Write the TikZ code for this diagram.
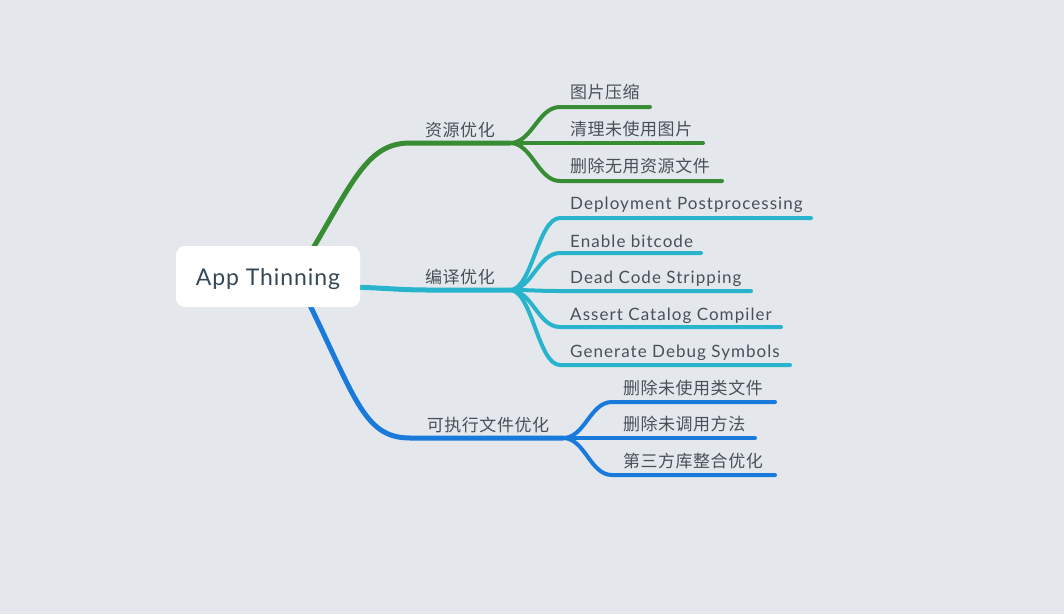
\documentclass[tikz,border=0pt]{standalone}
\usepackage{fontspec}
\setmainfont[LetterSpace=4]{Lato}
\newfontfamily\itemfont[LetterSpace=6.2]{Lato}
\newfontfamily\cjk[LetterSpace=3]{Noto Sans CJK SC}
\definecolor{bgc}{RGB}{228,232,236}
\definecolor{txt}{RGB}{72,80,90}
\definecolor{roottxt}{RGB}{52,72,88}
\definecolor{gbr}{RGB}{56,140,52}
\definecolor{cbr}{RGB}{40,180,205}
\definecolor{bbr}{RGB}{26,122,220}
\begin{document}
\begin{tikzpicture}[x=1pt,y=-1pt,
  mainline/.style={line width=5pt,line cap=round},
  subline/.style={line width=4pt,line cap=round},
  clbl/.style={inner sep=0pt,text=txt,font=\cjk\fontsize{17}{18}\selectfont},
  item/.style={inner sep=0pt,anchor=west,text=txt,font=\itemfont\fontsize{17}{18}\selectfont},
  citem/.style={inner sep=0pt,anchor=west,text=txt,font=\cjk\fontsize{17}{18}\selectfont},
  rootbox/.style={fill=white,rounded corners=9pt,minimum width=184pt,minimum height=61pt,inner sep=0pt,text=roottxt,font=\fontsize{23}{26}\selectfont}
]
\fill[bgc] (0,0) rectangle (1064,614);
\useasboundingbox (0,0) rectangle (1064,614);

% coordinates
\coordinate (gstart) at (300,270);
\coordinate (cstart) at (330,287);
\coordinate (bstart) at (300,285);
\coordinate (gbend) at (410,143);
\coordinate (gfork) at (510,143);
\coordinate (cbend) at (430,290);
\coordinate (cfork) at (510,290);
\coordinate (bbend) at (410,438);
\coordinate (bfork) at (563,438);

% main branches
\draw[mainline,gbr] (gstart) .. controls (352,185) and (365,143) .. (gbend) -- (gfork);
\draw[mainline,cbr] (cstart) .. controls (385,287) and (390,290) .. (cbend) -- (cfork);
\draw[mainline,bbr] (bstart) .. controls (355,395) and (362,438) .. (bbend) -- (bfork);

% green sub branches
\coordinate (g1s) at (560,107); \coordinate (g1e) at (650,107);
\coordinate (g2s) at (560,143); \coordinate (g2e) at (703,143);
\coordinate (g3s) at (560,181); \coordinate (g3e) at (722,181);
\foreach \s/\e in {g1s/g1e,g2s/g2e,g3s/g3e}
  \draw[subline,gbr] (gfork) .. controls +(22,0) and +(-22,0) .. (\s) -- (\e);

% cyan sub branches
\coordinate (c1s) at (560,218); \coordinate (c1e) at (811,218);
\coordinate (c2s) at (560,253); \coordinate (c2e) at (701,253);
\coordinate (c3s) at (560,291); \coordinate (c3e) at (751,291);
\coordinate (c4s) at (560,327); \coordinate (c4e) at (781,327);
\coordinate (c5s) at (560,365); \coordinate (c5e) at (790,365);
\foreach \s/\e in {c1s/c1e,c2s/c2e,c3s/c3e,c4s/c4e,c5s/c5e}
  \draw[subline,cbr] (cfork) .. controls +(22,0) and +(-22,0) .. (\s) -- (\e);

% blue sub branches
\coordinate (b1s) at (612,402); \coordinate (b1e) at (775,402);
\coordinate (b2s) at (612,438); \coordinate (b2e) at (755,438);
\coordinate (b3s) at (612,475); \coordinate (b3e) at (775,475);
\foreach \s/\e in {b1s/b1e,b2s/b2e,b3s/b3e}
  \draw[subline,bbr] (bfork) .. controls +(22,0) and +(-22,0) .. (\s) -- (\e);

% root
\node[rootbox] (root) at (268,276.5) {\raisebox{-8.5pt}[0pt][0pt]{App Thinning}};

% main labels
\node[clbl] (lg) at (460,130) {资源优化};
\node[clbl] (lc) at (460,277) {编译优化};
\node[clbl] (lb) at (488,425) {可执行文件优化};

% items
\node[citem] (t1) at (570,92) {图片压缩};
\node[citem] (t2) at (570,129) {清理未使用图片};
\node[citem] (t3) at (570,166) {删除无用资源文件};
\node[item] (t4) at (570,204.5) {Deployment Postprocessing};
\node[item] (t5) at (570,241.5) {Enable bitcode};
\node[item] (t6) at (570,278.5) {Dead Code Stripping};
\node[item] (t7) at (570,315.5) {Assert Catalog Compiler};
\node[item] (t8) at (570,352.5) {Generate Debug Symbols};
\node[citem] (t9) at (623,388) {删除未使用类文件};
\node[citem] (t10) at (623,424) {删除未调用方法};
\node[citem] (t11) at (623,461) {第三方库整合优化};
\end{tikzpicture}
\end{document}
